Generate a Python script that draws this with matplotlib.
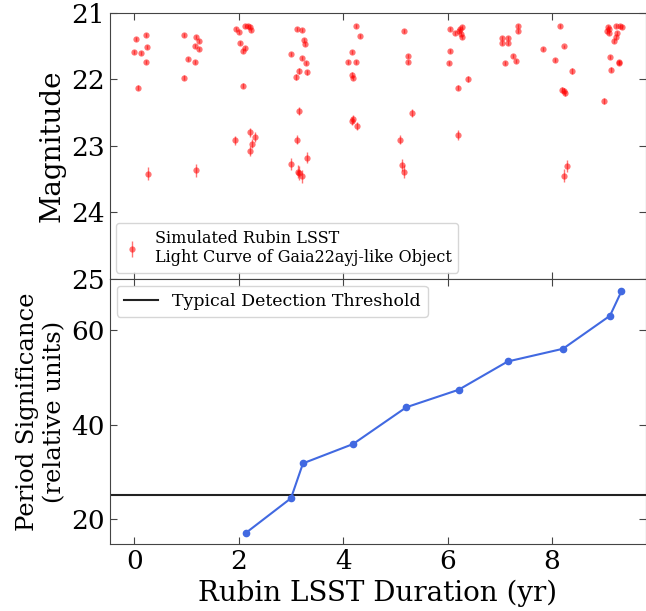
import numpy as np
import matplotlib
matplotlib.use("Agg")
from matplotlib import pyplot as plt

# simulated light curve (time in yr, magnitude, error)
lc_t = [0.03, 0.22, -0.01, 0.13, 0.24, 0.22, 0.07, 0.27,
        0.95, 1.19, 1.23, 1.17, 1.24, 1.02, 1.17, 0.95, 1.19,
        1.95, 2.00, 2.11, 2.17, 2.22, 2.24, 2.03, 2.12, 2.09, 2.08, 1.93, 2.22, 2.32, 2.25, 2.22,
        3.11, 3.22, 3.25, 3.27, 3.00, 3.22, 3.29, 3.16, 3.10, 3.31, 3.15, 3.11, 3.00, 3.30, 3.13, 3.16, 3.21,
        4.25, 4.33, 4.16, 4.09, 4.25, 4.16, 4.18, 4.18, 4.16, 4.26,
        5.16, 5.24, 5.24, 5.31, 5.08, 5.13, 5.16,
        6.05, 6.15, 6.23, 6.28, 6.26, 6.28, 6.21, 6.05, 6.03, 6.39, 6.19, 6.20,
        7.04, 7.04, 7.16, 7.16, 7.34, 7.34, 7.09, 7.26, 7.31,
        8.16, 8.22, 7.83, 8.06, 8.38, 8.22, 8.19, 8.25, 8.29, 8.22,
        9.07, 9.10, 9.23, 9.31, 9.34, 9.05, 9.09, 9.24, 9.22, 9.18, 9.12, 9.13, 9.28, 9.29, 9.00]
lc_mag = [21.39, 21.33, 21.59, 21.61, 21.52, 21.75, 22.13, 23.42,
          21.33, 21.37, 21.43, 21.50, 21.55, 21.70, 21.75, 21.98, 23.37,
          21.24, 21.29, 21.20, 21.20, 21.21, 21.26, 21.45, 21.54, 21.58, 22.10, 22.92, 22.80, 22.87, 22.97, 23.08,
          21.24, 21.26, 21.41, 21.47, 21.63, 21.68, 21.76, 21.88, 21.97, 21.90, 22.48, 22.91, 23.28, 23.18, 23.39, 23.41, 23.46,
          21.20, 21.35, 21.59, 21.75, 21.75, 21.94, 21.98, 22.60, 22.63, 22.70,
          21.28, 21.65, 21.75, 22.51, 22.91, 23.29, 23.39,
          21.25, 21.30, 21.24, 21.22, 21.32, 21.36, 21.28, 21.58, 21.76, 22.00, 22.13, 22.84,
          21.38, 21.46, 21.38, 21.45, 21.20, 21.28, 21.76, 21.66, 21.73,
          21.20, 21.51, 21.55, 21.72, 21.88, 22.18, 22.16, 22.21, 23.30, 23.45,
          21.22, 21.24, 21.20, 21.20, 21.22, 21.28, 21.30, 21.31, 21.36, 21.43, 21.67, 21.86, 21.74, 21.76, 22.33]
lc_err = [0.03, 0.03, 0.03, 0.03, 0.03, 0.03, 0.04, 0.10,
          0.03, 0.03, 0.03, 0.03, 0.03, 0.03, 0.03, 0.04, 0.10,
          0.03, 0.03, 0.03, 0.03, 0.03, 0.03, 0.03, 0.03, 0.03, 0.04, 0.07, 0.07, 0.07, 0.07, 0.08,
          0.03, 0.03, 0.03, 0.03, 0.03, 0.03, 0.03, 0.04, 0.04, 0.04, 0.06, 0.07, 0.09, 0.08, 0.10, 0.10, 0.10,
          0.03, 0.03, 0.03, 0.03, 0.03, 0.04, 0.04, 0.06, 0.06, 0.06,
          0.03, 0.03, 0.03, 0.06, 0.07, 0.09, 0.10,
          0.03, 0.03, 0.03, 0.03, 0.03, 0.03, 0.03, 0.03, 0.03, 0.04, 0.04, 0.07,
          0.03, 0.03, 0.03, 0.03, 0.03, 0.03, 0.03, 0.03, 0.03,
          0.03, 0.03, 0.03, 0.03, 0.04, 0.04, 0.04, 0.04, 0.09, 0.10,
          0.03, 0.03, 0.03, 0.03, 0.03, 0.03, 0.03, 0.03, 0.03, 0.03, 0.03, 0.04, 0.03, 0.03, 0.05]

# period significance vs survey duration
dur = [2.13, 3.00, 3.23, 4.19, 5.21, 6.21, 7.15, 8.21, 9.11, 9.33]
signif = [17.0, 24.4, 31.8, 35.9, 43.7, 47.4, 53.4, 56.1, 63.1, 68.3]
threshold = 25.0

plt.rcParams['font.family'] = 'DejaVu Serif'
plt.rcParams['axes.edgecolor'] = '#444444'

fig = plt.figure(figsize=(6.46, 6.11), dpi=100)
ax1 = fig.add_axes([0.170, 0.5434, 0.830, 0.4361])
ax2 = fig.add_axes([0.170, 0.1097, 0.830, 0.4337], sharex=ax1)

ax1.errorbar(lc_t, lc_mag, yerr=lc_err, fmt='o', color='red', ms=4.5,
             elinewidth=1, alpha=0.55, mec='none',
             label="Simulated Rubin LSST\nLight Curve of Gaia22ayj-like Object")
ax1.set_ylim(25, 21)
ax1.set_yticks([21, 22, 23, 24, 25])
ax1.set_ylabel("Magnitude", fontsize=20)
ax1.legend(loc="lower left", fontsize=11.5, handlelength=1.2, borderaxespad=0.4)

ax2.axhline(threshold, color='#222222', lw=1.5, label="Typical Detection Threshold")
ax2.plot(dur, signif, color='royalblue', marker='o', ms=4.5, lw=1.5)
ax2.set_ylim(14.7, 70.9)
ax2.set_yticks([20, 40, 60])
ax2.set_xlim(-0.47, 9.8)
ax2.set_xticks([0, 2, 4, 6, 8])
ax2.set_xlabel("Rubin LSST Duration (yr)", fontsize=20)
ax2.set_ylabel("Period Significance\n(relative units)", fontsize=17.5)
ax2.legend(loc="upper left", fontsize=12.5, borderaxespad=0.4)

for ax in (ax1, ax2):
    ax.tick_params(direction='in', top=True, right=True, labelsize=19, length=5, color='#444444')
ax1.tick_params(labelbottom=False)

plt.savefig("out.png", dpi=100)
